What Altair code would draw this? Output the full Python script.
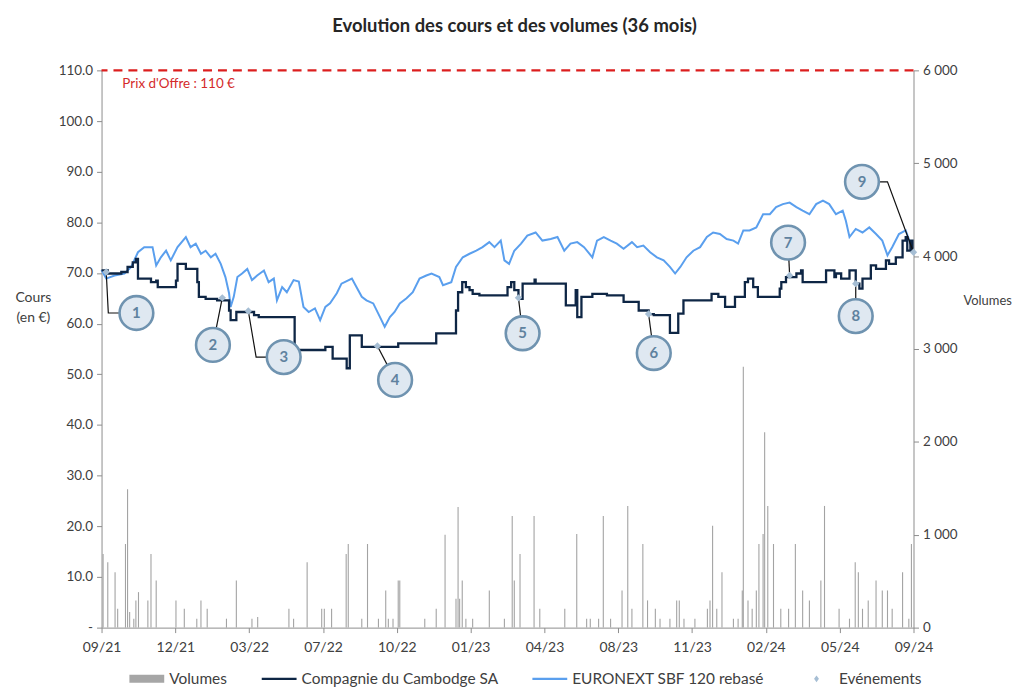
import json
import altair as alt
import pandas as pd

TITLE = "Evolution des cours et des volumes (36 mois)"
X_LABELS = ["09/21", "12/21", "03/22", "07/22", "10/22", "01/23",
            "04/23", "08/23", "11/23", "02/24", "05/24", "09/24"]
N_WEEKS = 156  # x axis: weeks since 09/21

# EURONEXT SBF 120 rebasé (week, value)
sbf_w = [0, 0.9, 2.5, 4.4, 5.7, 7.0, 8.2, 9.8, 10.5, 11.4, 12.4, 13.3, 14.6, 16.2, 17.1, 18.1,
         19.1, 20.0, 21.0, 21.9, 22.9, 23.8, 24.5, 24.8, 25.4, 26.1, 27.0, 28.0, 28.9, 29.9,
         31.2, 32.1, 33.1, 33.7, 34.7, 35.6, 36.9, 37.9, 38.8, 39.8, 41.0, 42.0, 43.0, 43.9,
         45.2, 46.1, 48.1, 49.0, 50.0, 50.9, 52.2, 53.5, 54.4, 55.4, 56.3, 57.3, 58.6, 59.8,
         61.1, 62.4, 63.4, 64.9, 65.6, 67.2, 68.1, 69.4, 70.7, 72.0, 73.2, 74.5, 75.5, 76.7,
         77.4, 78.3, 79.3, 80.6, 81.8, 83.4, 84.7, 86.3, 87.6, 88.9, 90.1, 91.4, 92.7, 94.3,
         95.2, 96.5, 97.8, 99.0, 100.3, 101.9, 102.9, 104.1, 105.4, 106.7, 108.0, 109.2, 110.2,
         111.2, 112.4, 113.7, 115.0, 116.3, 117.5, 118.8, 120.1, 121.4, 122.3, 123.3, 124.5,
         125.8, 127.1, 128.4, 129.6, 130.9, 132.2, 133.5, 134.7, 136.0, 137.3, 138.6, 139.8,
         141.1, 142.4, 143.0, 143.7, 144.9, 146.2, 147.5, 148.8, 150.0, 151.0, 151.9, 153.2,
         154.5, 155.4, 156.0]
sbf_v = [70.6, 68.9, 69.5, 69.9, 71.2, 74.1, 75.1, 75.1, 71.5, 73.1, 74.4, 72.5, 75.1, 77.1, 75.1, 75.8,
         73.8, 74.4, 73.1, 73.8, 71.8, 69.2, 66.0, 63.3, 65.3, 69.2, 69.9, 70.8, 68.6, 69.5,
         70.5, 68.2, 68.9, 64.6, 67.2, 66.2, 68.6, 68.3, 63.3, 62.3, 63.0, 60.7, 63.3, 64.0,
         66.0, 67.9, 68.9, 67.2, 65.3, 64.6, 64.0, 61.3, 59.4, 61.3, 62.3, 64.0, 65.0, 66.2,
         68.9, 69.5, 69.9, 69.2, 67.6, 68.2, 71.2, 73.1, 73.8, 74.4, 75.1, 76.1, 75.1, 76.4,
         72.5, 71.8, 74.4, 75.8, 77.4, 78.0, 76.4, 76.7, 77.1, 74.4, 75.8, 76.1, 75.1, 73.1,
         76.4, 77.1, 76.4, 75.8, 74.8, 76.1, 75.1, 75.4, 74.1, 73.1, 72.5, 71.2, 69.9,
         71.2, 73.1, 74.4, 75.1, 77.1, 78.0, 77.7, 76.7, 76.4, 75.8, 78.4, 78.4,
         79.0, 81.6, 81.6, 83.0, 83.6, 83.9, 83.0, 82.3, 81.6, 83.6, 84.3, 83.6,
         81.6, 82.3, 80.3, 77.1, 78.7, 78.0, 79.0, 77.7, 76.4, 73.5, 75.1, 77.7,
         78.4, 75.8, 74.1]

# Compagnie du Cambodge SA (week where a new price level starts, price)
cam_w = [0, 1.2, 3.8, 5.0, 6.0, 6.6, 7.0, 9.5, 10.5, 10.8, 14.3, 14.6, 16.2, 18.4, 18.7, 20.0,
         22.2, 24.5, 24.8, 25.9, 29.3, 30.2, 37.1, 43.0, 44.4, 47.1, 47.7, 50.0, 57.0, 64.3,
         68.1, 68.5, 69.3, 70.0, 70.7, 71.3, 72.6, 78.0, 78.7, 79.3, 80.1, 80.9, 83.2, 83.4,
         89.2, 91.1, 91.4, 92.2, 94.3, 97.1, 100.3, 103.2, 105.1, 106.1, 109.2, 110.8, 111.8,
         117.2, 118.5, 119.8, 121.7, 123.6, 124.2, 125.2, 126.1, 130.3, 130.6, 131.5, 133.5,
         134.4, 134.7, 139.2, 140.8, 141.1, 142.1, 143.7, 144.9, 145.6, 146.2, 147.8, 148.8,
         150.7, 151.3, 152.6, 153.9, 154.5, 154.8, 155.4, 155.8, 156.0]
cam_v = [70.5, 69.9, 70.2, 71.2, 72.1, 72.8, 68.9, 68.2, 68.5, 67.2, 68.5, 71.8, 70.8, 68.2, 65.3, 64.9,
         64.6, 62.6, 60.7, 62.3, 61.7, 61.3, 54.8, 55.4, 53.1, 51.2, 57.7, 55.4, 56.1, 58.1,
         62.6, 66.2, 68.2, 67.2, 66.6, 65.9, 65.6, 67.2, 68.2, 66.6, 64.9, 67.9, 68.7, 67.9,
         63.6, 66.6, 61.3, 65.3, 65.9, 65.6, 64.3, 62.6, 61.9, 61.7, 58.2, 62.0, 64.6,
         65.9, 65.3, 63.3, 65.3, 68.2, 68.9, 67.2, 65.3, 66.9, 68.2, 69.2, 69.9,
         70.5, 68.2, 70.5, 69.2, 69.9, 68.9, 70.5, 67.9, 66.9, 68.9, 71.5, 70.8,
         72.5, 71.8, 73.1, 76.4, 77.1, 74.4, 76.4, 74.4, 74.4]

# Volumes (week, volume)
vol_w = [0.3, 1.2, 2.6, 3.1, 4.6, 5.0, 5.4, 6.2, 6.6, 7.1, 8.9, 9.5, 10.5, 14.3, 15.9, 18.3,
         19.1, 20.3, 24.0, 25.9, 28.9, 30.0, 36.0, 36.9, 39.5, 42.3, 42.8, 44.2, 47.0, 47.4,
         50.0, 51.1, 53.2, 54.6, 55.1, 56.0, 57.0, 57.3, 62.1, 64.3, 66.0, 68.1, 68.5, 68.8,
         69.3, 70.0, 71.3, 74.5, 77.4, 78.9, 79.3, 80.4, 83.1, 84.2, 89.0, 91.3, 93.2, 93.9,
         95.5, 96.4, 97.8, 100.0, 101.1, 101.9, 104.0, 104.9, 106.4, 107.3, 109.2, 110.5,
         111.0, 111.9, 114.0, 116.4, 116.9, 117.4, 118.2, 119.2, 121.4, 122.3, 123.1, 123.3,
         124.2, 125.0, 125.8, 126.3, 127.1, 127.4, 128.0, 129.1, 130.5, 132.0, 133.3, 134.7,
         136.0, 138.2, 138.9, 141.7, 143.7, 144.8, 145.4, 146.2, 147.3, 148.8, 150.0, 151.0,
         151.9, 153.9, 155.1, 155.6]
vol_v = [793, 703, 596, 203, 900, 1489, 168, 96, 293, 382, 293, 793, 507, 293, 203, 96,
         293, 203, 96, 507, 96, 114, 203, 96, 703, 203, 203, 203, 793, 900,
         96, 900, 96, 400, 96, 96, 507, 507, 96, 203, 1000, 310, 1300, 310,
         507, 96, 96, 400, 96, 1203, 507, 793, 1203, 203, 203, 1007, 96, 96,
         96, 1203, 96, 400, 1310, 203, 900, 293, 203, 96, 96, 293,
         293, 96, 96, 203, 293, 1096, 203, 596, 96, 96, 400, 2810,
         293, 203, 400, 900, 1007, 2103, 1310, 900, 203, 203, 900, 400,
         293, 507, 1310, 203, 96, 703, 596, 203, 293, 507, 400, 400,
         203, 596, 96, 900]

# Evénements: marker (week, price), callout circle (week, price), optional elbow
ev_num = [1, 2, 3, 4, 5, 6, 7, 8, 9]
ev_w = [0.9, 23.2, 28.2, 53.0, 80.1, 105.1, 132.2, 144.9, 156.0]
ev_p = [70.2, 65.1, 62.5, 55.6, 65.1, 61.9, 69.5, 67.9, 74.1]
lab_w = [6.7, 21.4, 35.0, 56.4, 80.9, 106.1, 131.9, 144.9, 146.1]
lab_p = [62.1, 55.8, 53.4, 48.9, 58.1, 54.2, 76.0, 61.5, 88.0]
elbow = {1: (1.3, 62.1), 3: (29.7, 53.4), 9: (151.0, 88.0)}

OFFER = 110
OFFER_TEXT = "Prix d'Offre : 110 €"
OFFER_TEXT_POS = (4.0, 107.3)

LEGEND_NAMES = ["Volumes", "Compagnie du Cambodge SA", "EURONEXT SBF 120 rebasé", "Evénements"]
LEGEND_COLORS = ["#a6a6a6", "#0e2645", "#5a9fee", "#a6bed4"]
LEGEND_SHAPES = ["M-1,-0.23H1V0.23H-1Z", "M-1,-0.07H1V0.07H-1Z",
                 "M-1,-0.06H1V0.06H-1Z", "M0,-0.2L0.14,0L0,0.2L-0.14,0Z"]

FONT = "Lato"
TXT = "#404040"
AX = "#8c8c8c"

# ---------- data frames ----------
sbf_df = pd.DataFrame({"w": sbf_w, "p": sbf_v})
cam_df = pd.DataFrame({"w": cam_w, "p": cam_v})
vol_df = pd.DataFrame({"w": vol_w, "v": vol_v})
ev_df = pd.DataFrame({"w": ev_w, "p": ev_p, "n": ev_num})
lab_df = pd.DataFrame({"w": lab_w, "p": lab_p, "n": [str(n) for n in ev_num]})
rows = []
for i, n in enumerate(ev_num):
    rows.append({"id": n, "o": 0, "w": ev_w[i], "p": ev_p[i]})
    if n in elbow:
        rows.append({"id": n, "o": 1, "w": elbow[n][0], "p": elbow[n][1]})
    rows.append({"id": n, "o": 2, "w": lab_w[i], "p": lab_p[i]})
con_df = pd.DataFrame(rows)
offer_df = pd.DataFrame({"p": [OFFER]})
offer_txt_df = pd.DataFrame({"w": [OFFER_TEXT_POS[0]], "p": [OFFER_TEXT_POS[1]], "t": [OFFER_TEXT]})
leg_df = pd.DataFrame({"serie": LEGEND_NAMES})

# ---------- scales / axes ----------
step = N_WEEKS / (len(X_LABELS) - 1)
x_ticks = [k * step for k in range(len(X_LABELS))]
x_enc = alt.X(
    "w:Q",
    scale=alt.Scale(domain=[0, N_WEEKS], nice=False, zero=False),
    axis=alt.Axis(values=x_ticks, grid=False, tickSize=5, labelPadding=8, labelFlush=False,
                  labelExpr="%s[round(datum.value / %f)]" % (json.dumps(X_LABELS), step),
                  labelFontSize=14),
    title=None,
)
y_price = alt.Y(
    "p:Q",
    scale=alt.Scale(domain=[0, 110], nice=False, zero=True),
    axis=alt.Axis(orient="left", values=list(range(0, 111, 10)), grid=False, tickSize=5,
                  labelPadding=4, labelFontSize=13.5,
                  labelExpr="datum.value == 0 ? '-' : format(datum.value, '.1f')",
                  title=["Cours", "(en €)"], titleAngle=0, titleAlign="center",
                  titleBaseline="top", titleX=-69, titleY=221, titleLineHeight=20),
)
y_vol = alt.Y(
    "v:Q",
    scale=alt.Scale(domain=[0, 6000], nice=False, zero=True),
    axis=alt.Axis(orient="right", values=list(range(0, 6001, 1000)), grid=False, tickSize=5,
                  labelPadding=4, labelFontSize=13.5,
                  labelExpr="replace(format(datum.value, ','), ',', ' ')",
                  title="Volumes", titleAngle=0, titleAlign="center", titleBaseline="middle",
                  titleX=74, titleY=231, titleFontSize=13),
)

# ---------- layers ----------
vol_layer = alt.Chart(vol_df).mark_rule(color="#a3a3a3", strokeWidth=1.1).encode(
    x=x_enc, y=y_vol, y2=alt.datum(0))

offer_rule = alt.Chart(offer_df).mark_rule(color="#dc1e1e", strokeWidth=2.5,
                                           strokeDash=[9, 6]).encode(y=y_price)
offer_text = alt.Chart(offer_txt_df).mark_text(align="left", baseline="middle", font=FONT,
                                               fontSize=13.5, color="#d42a2a").encode(
    x=x_enc, y=y_price, text="t:N")
blue_line = alt.Chart(sbf_df).mark_line(color="#5a9fee", strokeWidth=2).encode(x=x_enc, y=y_price)
dark_line = alt.Chart(cam_df).mark_line(color="#0e2645", strokeWidth=2.3,
                                        interpolate="step-after").encode(x=x_enc, y=y_price)
connectors = alt.Chart(con_df).mark_line(color="#111111", strokeWidth=1.2).encode(
    x=x_enc, y=y_price, detail="id:N", order="o:Q")
events = alt.Chart(ev_df).mark_point(shape="diamond", filled=True, color="#a6bed4",
                                     size=55, opacity=1).encode(x=x_enc, y=y_price)
circles = alt.Chart(lab_df).mark_point(shape="circle", filled=False, fill="#dfe8f1",
                                       fillOpacity=1, stroke="#6f93b0", strokeWidth=2.6,
                                       size=1150, opacity=1).encode(x=x_enc, y=y_price)
numbers = alt.Chart(lab_df).mark_text(font=FONT, fontSize=15, fontWeight="bold",
                                      color="#5f829f", baseline="middle", align="center").encode(
    x=x_enc, y=y_price, text="n:N")

leg_kw = dict(title=None, orient="none", legendX=28, legendY=594, direction="horizontal",
              columns=4, columnPadding=34, symbolSize=1225, symbolStrokeWidth=0,
              symbolOpacity=1, labelFont=FONT, labelFontSize=15.5, labelColor=TXT,
              labelLimit=400, labelOffset=5)
legend_layer = alt.Chart(leg_df).mark_point(filled=True, size=4, opacity=0).encode(
    x=alt.value(0), y=alt.value(0),
    color=alt.Color("serie:N", scale=alt.Scale(domain=LEGEND_NAMES, range=LEGEND_COLORS),
                    legend=alt.Legend(**leg_kw), sort=LEGEND_NAMES),
    shape=alt.Shape("serie:N", scale=alt.Scale(domain=LEGEND_NAMES, range=LEGEND_SHAPES),
                    legend=alt.Legend(**leg_kw), sort=LEGEND_NAMES),
)

price_group = alt.layer(offer_rule, offer_text, blue_line, dark_line, connectors,
                        events, circles, numbers, legend_layer)

chart = alt.layer(vol_layer, price_group).resolve_scale(y="independent").properties(
    width=816, height=560,
    title=alt.TitleParams(text=TITLE, font=FONT, fontSize=18.5, fontWeight="bold",
                          color="#262626", offset=28, anchor="middle", dx=7),
    padding={"left": 94, "top": 61, "right": 104, "bottom": 58},
    autosize=alt.AutoSizeParams(type="none"),
).configure_axis(
    labelFont=FONT, titleFont=FONT, labelColor=TXT, titleColor=TXT,
    domainColor=AX, tickColor=AX, titleFontWeight="normal", titleFontSize=14,
).configure_view(stroke=None)

chart.save("out.html", embed_options={"renderer": "svg", "actions": False})
